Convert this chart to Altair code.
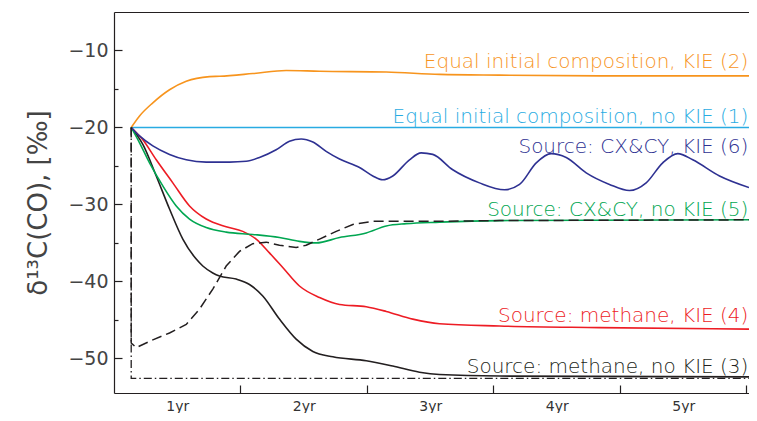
import altair as alt
import pandas as pd

# ---- data (t in years, v in permil) ----
T1 = [0.136, 5.02]
V1 = [-20.0, -20.0]

T2 = [0.136, 0.202, 0.307, 0.439, 0.571, 0.755, 0.834, 1.097, 1.361, 1.625, 2.152, 2.575, 3.05, 3.84, 5.02]
V2 = [-20.0, -18.5, -16.8, -15.1, -14.0, -13.4, -13.35, -13.0, -12.6, -12.7, -12.8, -13.1, -13.2, -13.3, -13.3]

T3 = [0.136, 0.228, 0.334, 0.439, 0.544, 0.650, 0.702, 0.781, 0.834, 0.966, 1.071, 1.176, 1.308, 1.440, 1.572, 1.730, 1.994, 2.204, 2.415, 2.573, 3.047, 5.02]
V3 = [-20.0, -22.2, -26.3, -30.6, -34.5, -37.1, -38.0, -38.9, -39.3, -39.7, -40.4, -41.9, -44.9, -47.5, -49.1, -49.8, -50.3, -51.0, -51.8, -52.1, -52.3, -52.4]

T4 = [0.136, 0.228, 0.334, 0.465, 0.597, 0.729, 0.887, 1.018, 1.124, 1.229, 1.334, 1.466, 1.625, 1.783, 1.994, 2.152, 2.362, 2.573, 3.047, 3.838, 5.02]
V4 = [-20.0, -21.6, -24.2, -27.2, -30.2, -31.9, -32.9, -33.5, -34.5, -36.3, -38.2, -40.6, -42.1, -43.0, -43.3, -43.9, -44.9, -45.5, -45.8, -46.0, -46.2]

T5 = [0.136, 0.202, 0.281, 0.386, 0.492, 0.597, 0.729, 0.887, 1.097, 1.308, 1.466, 1.598, 1.783, 1.994, 2.152, 2.310, 2.573, 3.047, 5.02]
V5 = [-20.0, -22.0, -24.6, -27.6, -30.2, -31.9, -33.0, -33.6, -33.9, -34.3, -34.8, -35.0, -34.3, -33.7, -32.8, -32.5, -32.3, -32.1, -32.0]

T6 = [0.136, 0.202, 0.307, 0.439, 0.571, 0.729, 0.913, 1.045, 1.150, 1.282, 1.387, 1.480, 1.572, 1.677, 1.783, 1.941, 2.046, 2.125, 2.204, 2.336, 2.428, 2.520, 2.678, 2.889, 3.087, 3.206, 3.338, 3.456, 3.575, 3.733, 3.917, 4.075, 4.207, 4.338, 4.457, 4.575, 4.787, 5.02]
V6 = [-20.0, -21.1, -22.4, -23.5, -24.2, -24.5, -24.5, -24.4, -23.9, -22.9, -21.8, -21.5, -21.9, -23.1, -24.1, -25.2, -26.3, -26.8, -26.3, -24.2, -23.3, -23.5, -25.5, -27.2, -28.1, -27.4, -24.6, -23.4, -23.9, -25.9, -27.4, -28.2, -27.2, -24.6, -23.4, -24.2, -26.3, -27.8]

T_DASH = [0.136, 0.136, 0.175, 0.307, 0.439, 0.571, 0.676, 0.781, 0.887, 0.992, 1.097, 1.203, 1.308, 1.440, 1.519, 1.625, 1.757, 1.888, 2.046, 2.573, 3.047, 5.02]
V_DASH = [-20.0, -48.0, -48.6, -47.6, -46.7, -45.6, -43.6, -41.0, -38.0, -36.1, -35.1, -34.9, -35.3, -35.6, -35.3, -34.5, -33.5, -32.6, -32.2, -32.2, -32.1, -32.0]

T_DASHDOT = [0.136, 0.136, 5.02]
V_DASHDOT = [-20.0, -52.6, -52.6]

SERIES = ["s1", "s2", "s3", "s4", "s5", "s6", "dash", "dashdot"]
COLORS = ["#29ABE2", "#F7941D", "#231F20", "#ED1C24", "#00A651", "#2E3192", "#231F20", "#231F20"]

LABELS = ["Equal initial composition, KIE (2)",
          "Equal initial composition, no KIE (1)",
          "Source: CX&CY, KIE (6)",
          "Source: CX&CY, no KIE (5)",
          "Source: methane, KIE (4)",
          "Source: methane, no KIE (3)"]
LABEL_SERIES = ["s2", "s1", "s6", "s5", "s4", "s3"]
LABEL_T = [5.015] * 6
LABEL_V = [-12.29, -19.36, -23.27, -31.52, -45.33, -51.84]

Y_TICKS = [-50, -45, -40, -35, -30, -25, -20, -15, -10]
X_TICKS = [0.5, 1, 1.5, 2, 2.5, 3, 3.5, 4, 4.5, 5]

rows = []
for name, ts, vs in [("s1", T1, V1), ("s2", T2, V2), ("s3", T3, V3), ("s4", T4, V4),
                     ("s5", T5, V5), ("s6", T6, V6), ("dash", T_DASH, V_DASH),
                     ("dashdot", T_DASHDOT, V_DASHDOT)]:
    for i, (t, v) in enumerate(zip(ts, vs)):
        rows.append({"series": name, "t": t, "v": v, "i": i})
df = pd.DataFrame(rows)
lab = pd.DataFrame({"label": LABELS, "series": LABEL_SERIES, "t": LABEL_T, "v": LABEL_V})

FONT = "DejaVu Sans"
W, H = 635, 381
xscale = alt.Scale(domain=[0, 5.02], nice=False, zero=False)
yscale = alt.Scale(domain=[-54.5, -5], nice=False, zero=False)
cscale = alt.Scale(domain=SERIES, range=COLORS)

x_axis = alt.Axis(orient="bottom", values=X_TICKS, title=None, grid=False,
                  labelExpr="datum.value % 1 == 0 ? '' : format(ceil(datum.value), 'd') + 'yr'",
                  tickOpacity={"condition": {"test": "datum.value % 1 == 0", "value": 1}, "value": 0},
                  tickSize=alt.ExprRef(expr="-8"), labelPadding=14, labelOverlap=False,
                  labelFlush=False, labelFont=FONT, labelFontSize=14, labelColor="#333333",
                  domainColor="#231F20", tickColor="#231F20", domainWidth=1.2, tickWidth=1.2)
y_axis = alt.Axis(orient="left", values=Y_TICKS, grid=False, ticks=False, tickSize=0,
                  labelExpr="datum.value % 10 == 0 ? format(datum.value, 'd') : ''",
                  labelPadding=6, labelOverlap=False, labelFlush=False,
                  labelFont=FONT, labelFontSize=19, labelColor="#444444",
                  domainColor="#231F20", domainWidth=1.2,
                  title="\u03b4\u00b9\u00b3C(CO), [\u2030]", titleFont=FONT, titleFontSize=26,
                  titleFontWeight="normal", titleColor="#444444", titlePadding=16)
# inward ticks of the left edge: a right-oriented axis moved onto the left edge
y_tick_axis = alt.Axis(orient="right", offset=-W, values=Y_TICKS, grid=False, labels=False,
                       domain=False, domainOpacity=0, domainColor="transparent", ticks=True,
                       tickSize={"condition": {"test": "datum.value % 10 == 0", "value": 8}, "value": 4},
                       tickColor="#231F20", tickWidth=1.2, title=None)
top_axis = alt.Axis(orient="top", labels=False, ticks=False, domain=True, title=None, grid=False,
                    domainColor="#231F20", domainWidth=1.2)

base = alt.Chart(df)
solid = base.transform_filter(
    alt.FieldOneOfPredicate(field="series", oneOf=["s1", "s2", "s3", "s4", "s5", "s6"])
).mark_line(interpolate="monotone", strokeWidth=1.6).encode(
    x=alt.X("t:Q", scale=xscale, axis=x_axis),
    y=alt.Y("v:Q", scale=yscale, axis=y_axis),
    color=alt.Color("series:N", scale=cscale, legend=None),
    detail="series:N",
    order="i:Q",
)
dashed = base.transform_filter(alt.datum.series == "dash").mark_line(
    strokeWidth=1.5, strokeDash=[10, 5], color="#231F20").encode(
    x=alt.X("t:Q", scale=xscale, axis=None),
    y=alt.Y("v:Q", scale=yscale, axis=y_tick_axis),
    order="i:Q",
)
dashdot = base.transform_filter(alt.datum.series == "dashdot").mark_line(
    strokeWidth=1.3, strokeDash=[8, 3, 1.5, 3], color="#231F20").encode(
    x=alt.X("t:Q", scale=xscale, axis=None),
    y=alt.Y("v:Q", scale=yscale, axis=None),
    order="i:Q",
)
texts = alt.Chart(lab).mark_text(align="right", baseline="alphabetic", font=FONT,
                                 fontSize=20, fontWeight=300).encode(
    x=alt.X("t:Q", scale=xscale, axis=top_axis),
    y=alt.Y("v:Q", scale=yscale, axis=None),
    color=alt.Color("series:N", scale=cscale, legend=None),
    text="label:N",
)

# whole svg 741 x 405 so the page (8px margins) does not overflow
chart = alt.layer(solid, dashdot, dashed, texts).properties(
    width=W, height=H,
    autosize=alt.AutoSizeParams(type="none"),
    padding={"left": 106, "top": 4, "right": 0, "bottom": 20},
    background="white",
).configure_view(stroke="transparent", strokeWidth=0, strokeOpacity=0)

chart.save("out.html", embed_options={"renderer": "svg", "actions": False})
